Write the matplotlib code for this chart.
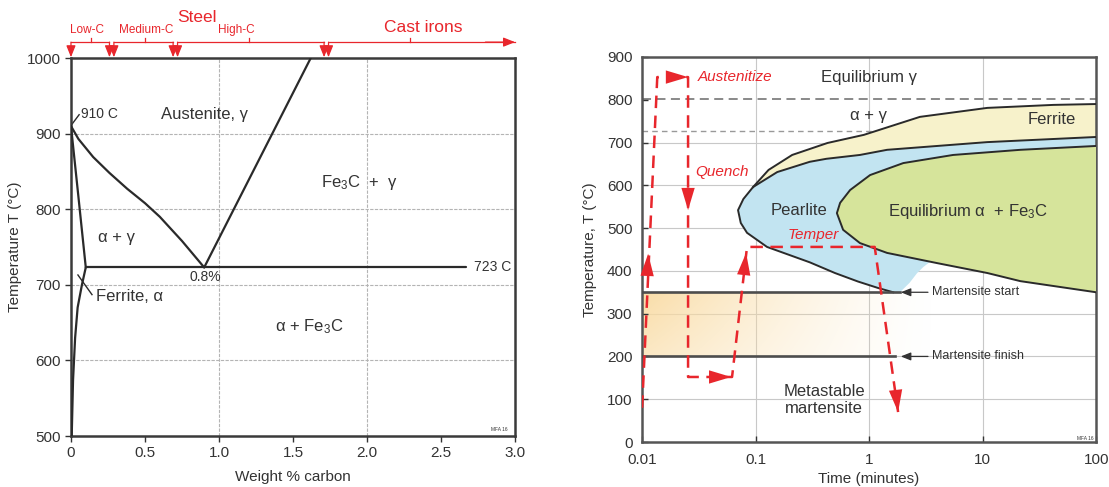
import matplotlib
matplotlib.use('Agg')
import matplotlib.pyplot as plt
import numpy as np

plt.rcParams['font.family'] = ['Liberation Sans', 'DejaVu Sans']
plt.rcParams['mathtext.fontset'] = 'custom'
plt.rcParams['mathtext.rm'] = 'Liberation Sans'
plt.rcParams['mathtext.it'] = 'Liberation Sans:italic'

RED = '#e8262c'
DARK = '#333333'

# ---------- left chart: Fe-C phase diagram (wt% C, deg C)
gamma_x = [0.0, 0.05, 0.15, 0.26, 0.38, 0.50, 0.60, 0.75, 0.90]
gamma_T = [910, 893, 869, 848, 827, 808, 790, 758, 723]
alpha_x = [0.0, 0.05, 0.10]
alpha_T = [910, 817, 723]
ferrite_x = [0.10, 0.074, 0.045, 0.028, 0.014, 0.005]
ferrite_T = [723, 700, 670, 630, 574, 500]
acm_x = [0.90, 1.62]
acm_T = [723, 1000]
eutectoid_x = [0.10, 2.67]
eutectoid_T = 723

wt_ticks = [0, 0.5, 1.0, 1.5, 2.0, 2.5, 3.0]
wt_labels = ['0', '0.5', '1.0', '1.5', '2.0', '2.5', '3.0']
temp_ticks_l = [500, 600, 700, 800, 900, 1000]

# steel classes above the diagram
class_names = ['Low-C', 'Medium-C', 'High-C', 'Cast irons']
class_start = [0.0, 0.29, 0.72, 1.74]
class_end = [0.26, 0.69, 1.71, 3.0]
class_mid = [0.135, 0.50, 1.20, 2.29]
class_text_x = [0.11, 0.51, 1.12, 2.38]

# ---------- right chart: TTT diagram (minutes, deg C)
ferrite_t = [0.095, 0.13, 0.21, 0.43, 0.9, 2.8, 11, 42, 100]
ferrite_TT = [596, 636, 671, 699, 718, 760, 781, 788, 790]

pearl_up_t = [100, 11, 1.44, 0.83, 0.42, 0.30, 0.155, 0.095, 0.078, 0.070]
pearl_up_T = [713, 701, 683, 671, 662, 655, 631, 596, 568, 542]
pearl_lo_t = [0.070, 0.074, 0.084, 0.126, 0.30, 0.5, 0.8, 1.2, 1.63]
pearl_lo_T = [542, 512, 489, 456, 420, 395, 375, 360, 350]
pearl_edge_t = [1.63, 1.87, 2.27, 2.65, 3.0, 3.6, 20, 100]
pearl_edge_T = [350, 350, 372, 395, 409, 425, 500, 600]

eq_up_t = [100, 21.5, 5.5, 2.0, 1.02, 0.68, 0.555, 0.52]
eq_up_T = [692, 683, 671, 652, 624, 589, 559, 535]
eq_lo_t = [0.52, 0.59, 0.83, 1.44, 4.0, 11, 21.5, 100]
eq_lo_T = [535, 496, 465, 442, 418, 395, 376, 350]

ms_T, mf_T = 350, 200
ms_end, mf_end = 1.87, 1.7
a3_T, a1_T = 802, 727

# heat treatment path (red dashed)
path_t = [0.0100, 0.0136, 0.0254, 0.0254, 0.062, 0.084, 1.12, 1.8]
path_T = [80, 853, 853, 152, 152, 456, 456, 70]

time_ticks = [0.01, 0.1, 1, 10, 100]
time_labels = ['0.01', '0.1', '1', '10', '100']
temp_ticks_r = [0, 100, 200, 300, 400, 500, 600, 700, 800, 900]

fig = plt.figure(figsize=(11.09, 4.87), dpi=100)

# ===================== left =====================
ax1 = fig.add_axes([0.064, 0.1047, 0.4004, 0.7762])
ax1.set_xlim(0, 3.0)
ax1.set_ylim(500, 1000)
for T in [600, 700, 800, 900]:
    ax1.axhline(T, color='#b4b4b4', lw=0.8, ls=(0, (3, 1.2)), zorder=0)
for x in [1.0, 2.0]:
    ax1.axvline(x, color='#b4b4b4', lw=0.8, ls=(0, (3, 1.2)), zorder=0)

lk = dict(color='#2a2a2a', lw=1.6, zorder=3, solid_capstyle='round', solid_joinstyle='round')
ax1.plot(gamma_x, gamma_T, **lk)
ax1.plot(alpha_x, alpha_T, **lk)
ax1.plot(ferrite_x, ferrite_T, **lk)
ax1.plot(acm_x, acm_T, **lk)
ax1.plot(eutectoid_x, [eutectoid_T] * 2, **lk)
ax1.plot([0.047, 0.142], [713, 687], color='#2a2a2a', lw=1.0)
ax1.plot([0.005, 0.055], [912, 925], color='#2a2a2a', lw=1.0)

tk = dict(color=DARK, fontsize=12)
ax1.text(0.065, 926, '910 C', color=DARK, fontsize=10, va='center')
ax1.text(0.90, 925, 'Austenite, γ', ha='center', va='center', **tk)
ax1.text(1.95, 835, 'Fe$_3$C  +  γ', ha='center', va='center', **tk)
ax1.text(0.31, 763, 'α + γ', ha='center', va='center', **tk)
ax1.text(0.91, 710, '0.8%', ha='center', va='center', color=DARK, fontsize=10)
ax1.text(2.72, 723, '723 C', va='center', color=DARK, fontsize=10)
ax1.text(0.169, 684, 'Ferrite, α', va='center', **tk)
ax1.text(1.61, 644, 'α + Fe$_3$C', ha='center', va='center', **tk)
ax1.text(2.95, 508, 'MFA 16', ha='right', va='center', fontsize=3.5, color=DARK)

# red class brackets
yb = 1021
for name, s, e, m, tx in zip(class_names, class_start, class_end, class_mid, class_text_x):
    ax1.plot([s, e], [yb, yb], color=RED, lw=0.9, clip_on=False)
    ax1.plot([m, m], [yb, yb + 5], color=RED, lw=0.9, clip_on=False)
    ends = [s] if name == 'Cast irons' else [s, e]
    for x in ends:
        ax1.annotate('', xy=(x, 1001), xytext=(x, yb), annotation_clip=False,
                     arrowprops=dict(arrowstyle='-|>,head_length=0.5,head_width=0.2',
                                     color=RED, lw=0.9, shrinkA=0, shrinkB=0,
                                     mutation_scale=14))
    fs = 12.5 if name == 'Cast irons' else 8.5
    ty = 1040 if name == 'Cast irons' else 1037
    ax1.text(tx, ty, name, color=RED, fontsize=fs, ha='center', va='center', clip_on=False)
ax1.annotate('', xy=(3.0, yb), xytext=(2.8, yb), annotation_clip=False,
             arrowprops=dict(arrowstyle='-|>,head_length=0.5,head_width=0.2',
                             color=RED, lw=0.9, shrinkA=0, shrinkB=0, mutation_scale=14))
ax1.text(0.85, 1054, 'Steel', color=RED, fontsize=12.5, ha='center', va='center', clip_on=False)

ax1.set_xticks(wt_ticks)
ax1.set_xticklabels(wt_labels)
ax1.set_yticks(temp_ticks_l)
ax1.tick_params(labelsize=11, colors=DARK, length=4, width=1)
ax1.set_xlabel('Weight % carbon', fontsize=11, color=DARK)
ax1.set_ylabel('Temperature T (°C)', fontsize=11, color=DARK)
ax1.xaxis.set_label_coords(0.5, -0.09)
ax1.yaxis.set_label_coords(-0.11, 0.5)
for sp in ax1.spines.values():
    sp.set_color('#3a3a3a')
    sp.set_linewidth(1.8)

# ===================== right =====================
ax2 = fig.add_axes([0.579, 0.0924, 0.4094, 0.7906])
ax2.set_xscale('log')

for x in [0.1, 1, 10]:
    ax2.axvline(x, color='#c8c8c8', lw=0.8, zorder=0)
for T in [100, 200, 300, 400, 500, 600, 700]:
    ax2.axhline(T, color='#c8c8c8', lw=0.8, zorder=0)
ax2.axhline(a3_T, color='#808080', lw=1.3, ls=(0, (5, 3)), zorder=1)
ax2.axhline(a1_T, color='#999999', lw=1.0, ls=(0, (4, 3)), zorder=1)

# martensite band gradient
u = np.linspace(0, 1, 300)
v = np.linspace(0, 1, 40)[:, None]
grad = np.zeros((40, 300, 4))
grad[..., 0] = 0.98
grad[..., 1] = 0.86
grad[..., 2] = 0.64
grad[..., 3] = (1 - u) ** 1.4 * (0.65 + 0.3 * v)
band_right = (np.log10(4) + 2) / 4
ax2.imshow(grad, extent=(0, band_right, ms_T, mf_T), transform=ax2.get_yaxis_transform(),
           aspect='auto', zorder=1, interpolation='bilinear')

# ferrite (yellow)
fx = ferrite_t + [100] + pearl_up_t[1:]
fy = ferrite_TT + [713] + pearl_up_T[1:]
ax2.fill(fx, fy, color='#f7f2cb', lw=0, zorder=2)
# pearlite (blue)
px = pearl_up_t + pearl_lo_t[1:] + pearl_edge_t[1:]
py = pearl_up_T + pearl_lo_T[1:] + pearl_edge_T[1:]
ax2.fill(px, py, color='#c2e4f1', lw=0, zorder=2)
# equilibrium alpha + Fe3C (green)
gx = eq_up_t + eq_lo_t[1:]
gy = eq_up_T + eq_lo_T[1:]
ax2.fill(gx, gy, color='#d6e49b', lw=0, zorder=3)

ck = dict(color='#2a2a2a', lw=1.4, zorder=4, solid_joinstyle='round')
ax2.plot(ferrite_t, ferrite_TT, **ck)
ax2.plot(pearl_up_t + pearl_lo_t[1:], pearl_up_T + pearl_lo_T[1:], **ck)
ax2.plot(gx, gy, **ck)

ax2.plot([0.01, ms_end], [ms_T, ms_T], color='#4d4d4d', lw=1.9, zorder=4)
ax2.plot([0.01, mf_end], [mf_T, mf_T], color='#4d4d4d', lw=1.9, zorder=4)
for T, lab in [(ms_T, 'Martensite start'), (mf_T, 'Martensite finish')]:
    ax2.annotate('', xy=(1.9, T), xytext=(3.3, T),
                 arrowprops=dict(arrowstyle='-|>,head_length=0.5,head_width=0.2',
                                 color='#333333', lw=0.9, shrinkA=0, shrinkB=0,
                                 mutation_scale=12))
    ax2.text(3.6, T, lab, fontsize=9, color=DARK, va='center')

# heat treatment path
ax2.plot(path_t, path_T, color=RED, lw=1.8, ls=(0, (5, 3)), zorder=6)
hk = dict(arrowstyle='-|>,head_length=0.8,head_width=0.24', color=RED, lw=0,
          shrinkA=0, shrinkB=0, mutation_scale=20)
arrow_specs = [((0.0113, 440), (0.0107, 300)),
               ((0.0254, 853), (0.017, 853)),
               ((0.0254, 542), (0.0254, 700)),
               ((0.061, 152), (0.040, 152)),
               ((0.0825, 442), (0.072, 300)),
               ((1.8, 70), (1.55, 220))]
for tip, tail in arrow_specs:
    ax2.annotate('', xy=tip, xytext=tail, arrowprops=hk, zorder=7)

rk = dict(color=RED, fontsize=11, style='italic', va='center')
ax2.text(0.031, 853, 'Austenitize', **rk)
ax2.text(0.0293, 631, 'Quench', **rk)
ax2.text(0.32, 484, 'Temper', ha='center', **rk)

bk = dict(color=DARK, fontsize=12, ha='center', va='center', zorder=8)
ax2.text(1.0, 851, 'Equilibrium γ', **bk)
ax2.text(0.98, 764, 'α + γ', **bk)
ax2.text(41, 753, 'Ferrite', **bk)
ax2.text(0.24, 542, 'Pearlite', **bk)
ax2.text(7.45, 538, 'Equilibrium α  + Fe$_3$C', **bk)
ax2.text(0.40, 98, 'Metastable\nmartensite', linespacing=1.2, **bk)
ax2.text(95, 9, 'MFA 16', ha='right', va='center', fontsize=3.5, color=DARK)

ax2.set_xlim(0.01, 100)
ax2.set_ylim(0, 900)
ax2.set_xticks(time_ticks)
ax2.set_xticklabels(time_labels)
ax2.minorticks_off()
ax2.set_yticks(temp_ticks_r)
ax2.tick_params(labelsize=11, colors=DARK, direction='in', length=4, width=1)
ax2.tick_params(axis='x', pad=8)
ax2.tick_params(axis='y', pad=7)
ax2.set_xlabel('Time (minutes)', fontsize=11, color=DARK)
ax2.set_ylabel('Temperature, T (°C)', fontsize=11, color=DARK)
ax2.xaxis.set_label_coords(0.5, -0.078)
ax2.yaxis.set_label_coords(-0.099, 0.5)
for sp in ax2.spines.values():
    sp.set_color('#555555')
    sp.set_linewidth(1.8)

fig.savefig('out.png', dpi=100)
